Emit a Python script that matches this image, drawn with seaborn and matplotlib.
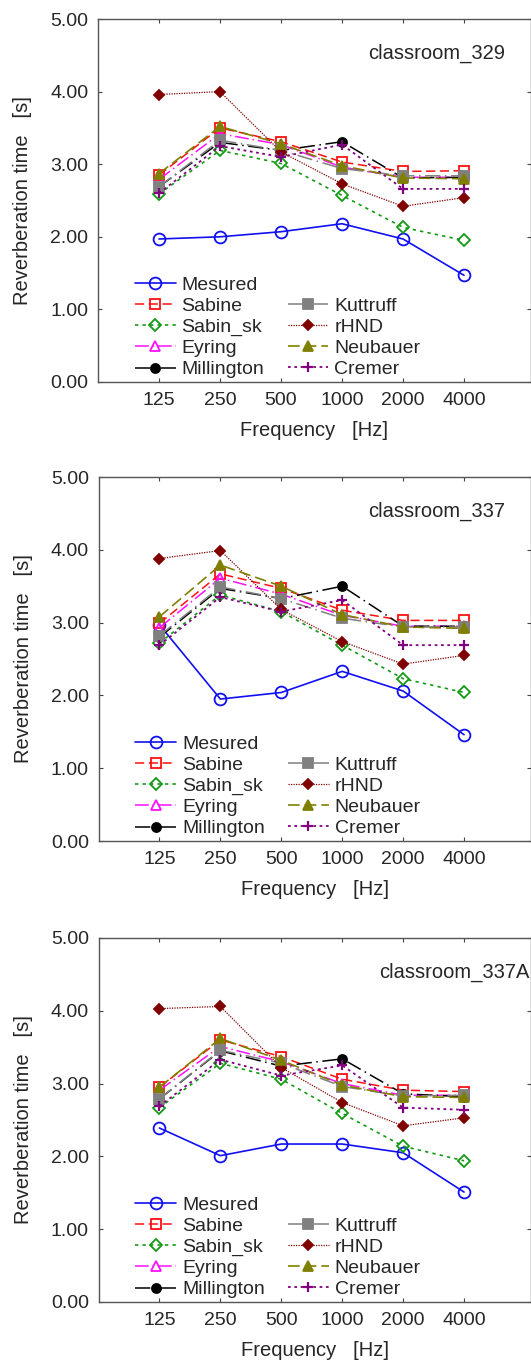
import numpy as np
import pandas as pd
import matplotlib
matplotlib.use("Agg")
import matplotlib.pyplot as plt
from matplotlib.lines import Line2D
import seaborn as sns

freqs = ["125", "250", "500", "1000", "2000", "4000"]
rooms = ["classroom_329", "classroom_337", "classroom_337A"]
methods = ["Mesured", "Sabine", "Sabin_sk", "Eyring", "Millington",
           "Kuttruff", "rHND", "Neubauer", "Cremer"]

# reverberation times [s], one list per method, per room
room_329 = {
    "Mesured":    [1.97, 2.00, 2.07, 2.18, 1.97, 1.47],
    "Sabine":     [2.85, 3.50, 3.31, 3.03, 2.90, 2.91],
    "Sabin_sk":   [2.59, 3.19, 3.01, 2.57, 2.13, 1.95],
    "Eyring":     [2.79, 3.42, 3.27, 2.96, 2.82, 2.82],
    "Millington": [2.69, 3.30, 3.19, 3.31, 2.81, 2.82],
    "Kuttruff":   [2.69, 3.33, 3.19, 2.94, 2.84, 2.84],
    "rHND":       [3.96, 4.00, 3.17, 2.73, 2.42, 2.54],
    "Neubauer":   [2.87, 3.52, 3.28, 2.98, 2.81, 2.80],
    "Cremer":     [2.60, 3.25, 3.10, 3.27, 2.66, 2.66],
}
room_337 = {
    "Mesured":    [2.97, 1.95, 2.04, 2.33, 2.06, 1.46],
    "Sabine":     [2.99, 3.67, 3.47, 3.17, 3.03, 3.03],
    "Sabin_sk":   [2.72, 3.38, 3.15, 2.69, 2.23, 2.04],
    "Eyring":     [2.93, 3.61, 3.39, 3.10, 2.95, 2.95],
    "Millington": [2.80, 3.47, 3.33, 3.50, 2.95, 2.95],
    "Kuttruff":   [2.82, 3.49, 3.33, 3.06, 2.94, 2.94],
    "rHND":       [3.88, 3.99, 3.18, 2.74, 2.43, 2.55],
    "Neubauer":   [3.08, 3.79, 3.50, 3.11, 2.94, 2.92],
    "Cremer":     [2.69, 3.35, 3.15, 3.31, 2.69, 2.69],
}
room_337A = {
    "Mesured":    [2.39, 2.01, 2.17, 2.17, 2.05, 1.51],
    "Sabine":     [2.95, 3.60, 3.37, 3.06, 2.91, 2.89],
    "Sabin_sk":   [2.67, 3.28, 3.06, 2.59, 2.14, 1.94],
    "Eyring":     [2.91, 3.51, 3.30, 3.00, 2.84, 2.84],
    "Millington": [2.79, 3.45, 3.24, 3.34, 2.86, 2.82],
    "Kuttruff":   [2.79, 3.46, 3.28, 2.96, 2.83, 2.84],
    "rHND":       [4.03, 4.06, 3.22, 2.74, 2.42, 2.53],
    "Neubauer":   [2.95, 3.62, 3.32, 2.98, 2.82, 2.81],
    "Cremer":     [2.69, 3.33, 3.11, 3.25, 2.67, 2.64],
}
room_data = [room_329, room_337, room_337A]

# style of each method: color, marker, size, open?, dash pattern, linewidth
styles = {
    "Mesured":    ("#1010f0", "o", 8.5, True, "-", 1.2),
    "Sabine":     ("#ff1010", "s", 7.5, True, (0, (6, 3)), 1.1),
    "Sabin_sk":   ("#139a13", "D", 6.0, True, (0, (2, 2.5)), 1.2),
    "Eyring":     ("#ff10ff", "^", 7.0, True, (0, (9, 2.5, 1, 2.5)), 1.1),
    "Millington": ("#000000", "o", 6.5, False, (0, (10, 3, 1, 3)), 1.1),
    "Kuttruff":   ("#808080", "s", 7.0, False, (0, (10, 3, 1, 3)), 1.1),
    "rHND":       ("#800000", "D", 5.0, False, (0, (1, 1)), 0.9),
    "Neubauer":   ("#808000", "^", 7.5, False, (0, (7, 3)), 1.2),
    "Cremer":     ("#800080", "+", 7.0, False, (0, (1.5, 2)), 1.3),
}

sns.set_style("ticks")
plt.rcParams["font.family"] = ["Liberation Sans", "DejaVu Sans"]

fig = plt.figure(figsize=(5.31, 13.65), dpi=100)
W, H = 531, 1365
panels = [(98, 19, 382), (98.5, 477, 841), (98.5, 938, 1302)]

for (left, top, bottom), room, data in zip(panels, rooms, room_data):
    ax = fig.add_axes([left / W, 1 - bottom / H, (W - left) / W, (bottom - top) / H])
    handles = {}
    for m in methods:
        color, marker, ms, hollow, ls, lw = styles[m]
        df = pd.DataFrame({"x": np.arange(1, len(freqs) + 1), "y": data[m]})
        sns.lineplot(data=df, x="x", y="y", ax=ax, color=color, marker=marker,
                     markersize=ms, linestyle=ls, linewidth=lw,
                     markerfacecolor="none" if hollow else color,
                     markeredgecolor=color,
                     markeredgewidth=1.6 if marker == "+" else 1.3,
                     label=m, legend=False)
        handles[m] = ax.lines[-1]

    blank = Line2D([], [], linestyle="none", label=" ")
    order = [handles[m] for m in methods[:5]] + [blank] + [handles[m] for m in methods[5:]]
    ax.legend(handles=order, labels=[h.get_label() for h in order], ncol=2,
              loc="lower left", bbox_to_anchor=(0.085, 0.01), frameon=False,
              fontsize=14, handlelength=2.1, handletextpad=0.3,
              labelspacing=0.18, columnspacing=1.2, borderpad=0,
              borderaxespad=0)

    ax.text(0.623 if room != "classroom_337A" else 0.65, 0.906, room,
            transform=ax.transAxes, fontsize=14.5, ha="left", va="center")

    ax.set_xlim(0, (W - 98) / 61)
    ax.set_ylim(0, 5)
    ax.set_xticks(np.arange(1, len(freqs) + 1))
    ax.set_xticklabels(freqs)
    ax.set_yticks(np.arange(0, 5.01, 1.0))
    ax.set_yticklabels(["%.2f" % v for v in np.arange(0, 5.01, 1.0)])
    ax.tick_params(direction="in", length=3, width=0.8, color="#444444",
                   labelsize=14, top=True, right=True, pad=7)
    ax.set_xlabel("Frequency   [Hz]", fontsize=14.5, labelpad=9)
    ax.set_ylabel("Reverberation time   [s]", fontsize=14.5, labelpad=13)
    for s in ax.spines.values():
        s.set_color("#555555")
        s.set_linewidth(1.0)

fig.savefig("out.png", dpi=100)
